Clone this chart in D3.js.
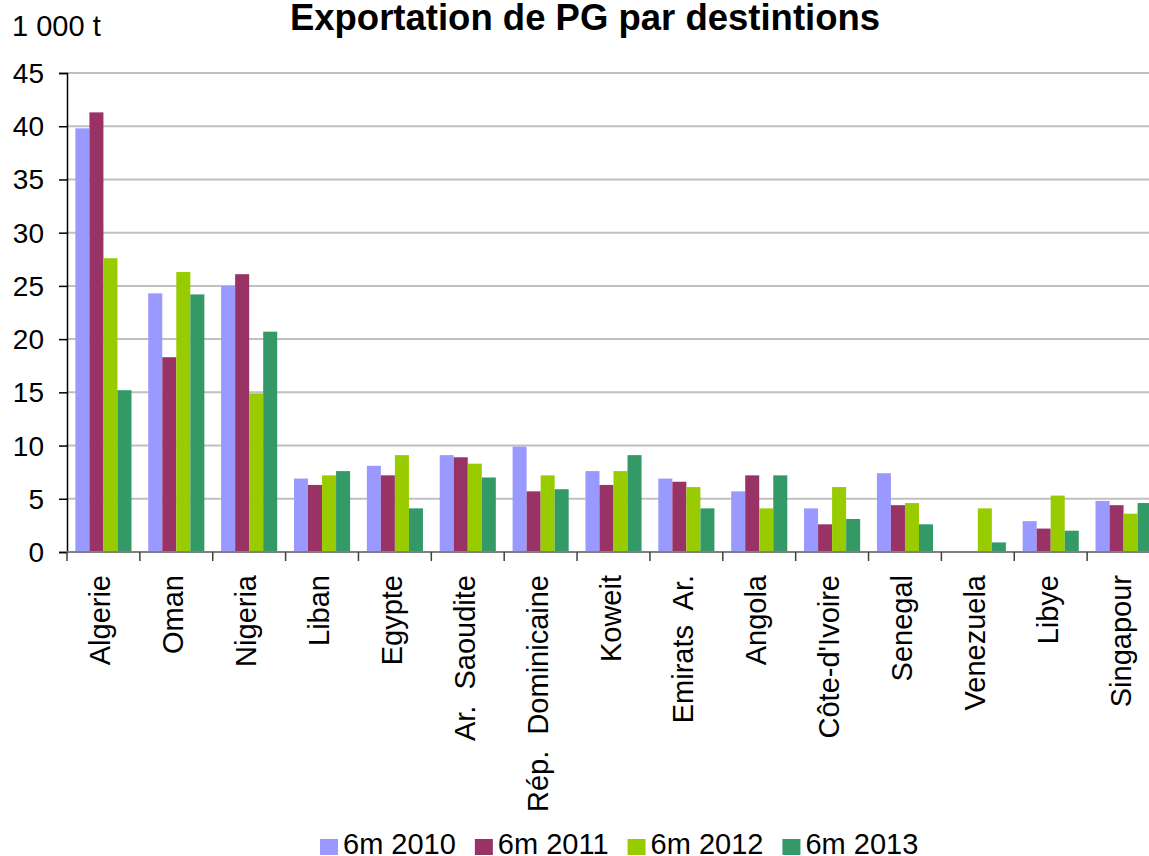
<!DOCTYPE html>
<html>
<head>
<meta charset="utf-8">
<script src="https://cdnjs.cloudflare.com/ajax/libs/d3/7.8.5/d3.min.js"></script>
<style>
    html, body { margin: 0; padding: 0; background: #fff; }
    svg { display: block; font-family: 'Liberation Sans', Arial, sans-serif; }
</style>
</head>
<body>
<svg class="chart" width="1149" height="856"></svg>
<script>
    const countries = ['Algerie', 'Oman', 'Nigeria', 'Liban', 'Egypte', 'Ar.  Saoudite', 'Rép.  Dominicaine',
        'Koweit', 'Emirats  Ar.', 'Angola', 'Côte-d\'Ivoire', 'Senegal', 'Venezuela', 'Libye', 'Singapour'];
    const seriesNames = ['6m 2010', '6m 2011', '6m 2012', '6m 2013'];
    const seriesColors = ['#9999FF', '#993366', '#99CC00', '#339966'];

    const v2010 = [39.8, 24.3, 25.0, 6.9, 8.1, 9.1, 9.9, 7.6, 6.9, 5.7, 4.1, 7.4, 0, 2.9, 4.8];
    const v2011 = [41.3, 18.3, 26.1, 6.3, 7.2, 8.9, 5.7, 6.3, 6.6, 7.2, 2.6, 4.4, 0, 2.2, 4.4];
    const v2012 = [27.6, 26.3, 14.9, 7.2, 9.1, 8.3, 7.2, 7.6, 6.1, 4.1, 6.1, 4.6, 4.1, 5.3, 3.6];
    const v2013 = [15.2, 24.2, 20.7, 7.6, 4.1, 7.0, 5.9, 9.1, 4.1, 7.2, 3.1, 2.6, 0.9, 2.0, 4.6];
    const yTicks = [0, 5, 10, 15, 20, 25, 30, 35, 40, 45];

(() => {
    'use strict';

    const seriesValues = [v2010, v2011, v2012, v2013];

    const svg = d3.select('.chart'),
          left = 67,
          right = 1160,
          plotTop = 73,
          bottom = 552,
          fontSize = 29;

    const x = d3.scaleBand()
        .domain(countries)
        .range([left, right])
        .paddingInner(0.23)
        .paddingOuter(0.115);

    const xBoundary = d3.scaleLinear()
        .domain([0, countries.length])
        .range([left, right]);

    const xInner = d3.scaleBand()
        .domain(seriesNames)
        .range([0, x.bandwidth()]);

    const y = d3.scaleLinear()
        .domain([0, 45])
        .range([bottom, plotTop]);

    // gridlines
    svg.append('g')
        .selectAll('line')
        .data(yTicks.filter(t => t > 0))
        .enter()
        .append('line')
        .attr('x1', left)
        .attr('x2', 1149)
        .attr('y1', d => y(d))
        .attr('y2', d => y(d))
        .attr('stroke', '#c0c0c0')
        .attr('stroke-width', 2);

    // bars
    const groups = svg.append('g')
        .selectAll('g')
        .data(countries)
        .enter()
        .append('g')
        .attr('transform', d => 'translate(' + x(d) + ',0)');

    groups.selectAll('rect')
        .data((d, i) => seriesNames.map((s, j) => ({ series: s, value: seriesValues[j][i], color: seriesColors[j] })))
        .enter()
        .append('rect')
        .attr('x', d => xInner(d.series))
        .attr('width', xInner.bandwidth())
        .attr('y', d => y(d.value))
        .attr('height', d => y(0) - y(d.value))
        .attr('fill', d => d.color);

    // y axis
    const yAxis = d3.axisLeft(y)
        .tickValues(yTicks)
        .tickSize(8)
        .tickFormat('');

    const yAxisG = svg.append('g')
        .attr('transform', 'translate(' + left + ',0)')
        .call(yAxis);
    yAxisG.select('.domain').attr('stroke', '#000').attr('stroke-width', 1.5);
    yAxisG.selectAll('.tick line').attr('stroke', '#000').attr('stroke-width', 1.5);

    svg.append('g')
        .selectAll('text')
        .data(yTicks)
        .enter()
        .append('text')
        .attr('x', 44)
        .attr('y', d => y(d) + 10)
        .attr('text-anchor', 'end')
        .attr('font-size', fontSize - 1)
        .attr('fill', '#000')
        .text(d => d);

    // x axis
    svg.append('line')
        .attr('x1', left)
        .attr('x2', right)
        .attr('y1', bottom)
        .attr('y2', bottom)
        .attr('stroke', '#808080')
        .attr('stroke-width', 2);

    svg.append('g')
        .selectAll('line')
        .data(d3.range(countries.length + 1))
        .enter()
        .append('line')
        .attr('x1', d => xBoundary(d))
        .attr('x2', d => xBoundary(d))
        .attr('y1', bottom)
        .attr('y2', bottom + 9)
        .attr('stroke', '#404040')
        .attr('stroke-width', 1.5);

    svg.append('g')
        .selectAll('text')
        .data(countries)
        .enter()
        .append('text')
        .attr('transform', d => 'translate(' + (x(d) + x.bandwidth() / 2 + 7) + ',575) rotate(-90)')
        .attr('text-anchor', 'end')
        .attr('font-size', fontSize)
        .attr('fill', '#000')
        .style('white-space', 'pre')
        .text(d => d);

    // title and unit
    svg.append('text')
        .attr('x', 585)
        .attr('y', 30)
        .attr('text-anchor', 'middle')
        .attr('font-size', 36.5)
        .attr('font-weight', 'bold')
        .text('Exportation de PG par destintions');

    svg.append('text')
        .attr('x', 12)
        .attr('y', 36)
        .attr('font-size', fontSize)
        .text('1 000 t');

    // legend
    const legend = svg.append('g');
    let lx = 320;
    seriesNames.forEach((name, i) => {
        legend.append('rect')
            .attr('x', lx)
            .attr('y', 839)
            .attr('width', 18)
            .attr('height', 16)
            .attr('fill', seriesColors[i]);
        const t = legend.append('text')
            .attr('x', lx + 23)
            .attr('y', 854)
            .attr('font-size', fontSize)
            .text(name);
        lx += 23 + t.node().getComputedTextLength() + 19;
    });
})();
</script>
</body>
</html>
